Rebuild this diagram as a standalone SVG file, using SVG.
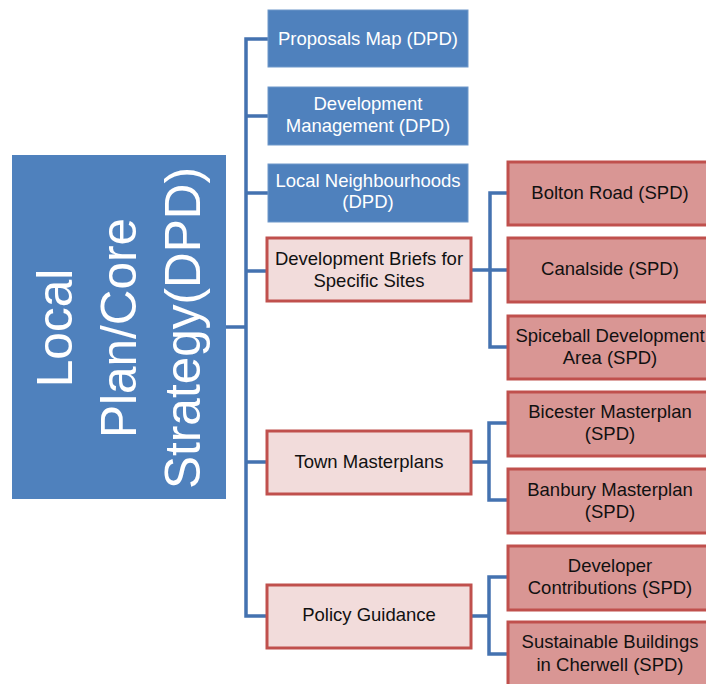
<svg xmlns="http://www.w3.org/2000/svg" width="706" height="684" viewBox="0 0 706 684">
<style>
text{font-family:"Liberation Sans",Arial,sans-serif;text-anchor:middle}
.blue{fill:#4F81BD;stroke:#6F98CA;stroke-width:1}
.pl{fill:#F2DCDB;stroke:#C0504D;stroke-width:3}
.pd{fill:#D99694;stroke:#C0504D;stroke-width:3}
.wt{fill:#FFFFFF;font-size:18.5px}
.dt{fill:#111111;font-size:18.5px}
.big{fill:#FFFFFF;font-size:49.5px}
.conn{fill:none;stroke:#4472B0;stroke-width:3.5}
</style>
<rect width="706" height="684" fill="#FFFFFF"/>
<g id="connectors" class="conn">
<path d="M226 327H246M268 39H246V616H268M246 116H268M246 193H268M246 271H268M246 462H268"/>
<path d="M471 270H490M508 193H490V347H508M490 270H508"/>
<path d="M471 462H489M508 423H489V500H508"/>
<path d="M471 616H489M508 577H489V654H508"/>
</g>
<g id="main">
<rect x="12" y="155" width="214" height="344" fill="#4F81BD"/>
<text class="big" transform="translate(72,328) rotate(-90)">Local</text>
<text class="big" transform="translate(136,328) rotate(-90)">Plan/Core</text>
<text class="big" transform="translate(200,328) rotate(-90)">Strategy(DPD)</text>
</g>
<g id="proposals">
<rect class="blue" x="268" y="10" width="200" height="57"/>
<text class="wt" x="368" y="45">Proposals Map (DPD)</text>
</g>
<g id="devmgmt">
<rect class="blue" x="268" y="87" width="200" height="58"/>
<text class="wt" x="368" y="110">Development</text>
<text class="wt" x="368" y="132">Management (DPD)</text>
</g>
<g id="localneigh">
<rect class="blue" x="268" y="164" width="200" height="58"/>
<text class="wt" x="368" y="187">Local Neighbourhoods</text>
<text class="wt" x="368" y="208">(DPD)</text>
</g>
<g id="devbriefs">
<rect class="pl" x="267" y="238" width="204" height="63"/>
<text class="dt" x="369" y="265">Development Briefs for</text>
<text class="dt" x="369" y="287">Specific Sites</text>
</g>
<g id="townmaster">
<rect class="pl" x="267" y="431" width="204" height="63"/>
<text class="dt" x="369" y="468">Town Masterplans</text>
</g>
<g id="policy">
<rect class="pl" x="267" y="585" width="204" height="63"/>
<text class="dt" x="369" y="621">Policy Guidance</text>
</g>
<g id="bolton">
<rect class="pd" x="508" y="162" width="206" height="63"/>
<text class="dt" x="610" y="199">Bolton Road (SPD)</text>
</g>
<g id="canalside">
<rect class="pd" x="508" y="238" width="206" height="64"/>
<text class="dt" x="610" y="275">Canalside (SPD)</text>
</g>
<g id="spiceball">
<rect class="pd" x="508" y="316" width="206" height="63"/>
<text class="dt" x="610" y="342">Spiceball Development</text>
<text class="dt" x="610" y="364">Area (SPD)</text>
</g>
<g id="bicester">
<rect class="pd" x="508" y="392" width="206" height="64"/>
<text class="dt" x="610" y="418">Bicester Masterplan</text>
<text class="dt" x="610" y="440">(SPD)</text>
</g>
<g id="banbury">
<rect class="pd" x="508" y="469" width="206" height="64"/>
<text class="dt" x="610" y="496">Banbury Masterplan</text>
<text class="dt" x="610" y="518">(SPD)</text>
</g>
<g id="developer">
<rect class="pd" x="508" y="546" width="206" height="64"/>
<text class="dt" x="610" y="572">Developer</text>
<text class="dt" x="610" y="594">Contributions (SPD)</text>
</g>
<g id="sustainable">
<rect class="pd" x="508" y="622" width="206" height="70"/>
<text class="dt" x="610" y="648">Sustainable Buildings</text>
<text class="dt" x="610" y="671">in Cherwell (SPD)</text>
</g>
</svg>
